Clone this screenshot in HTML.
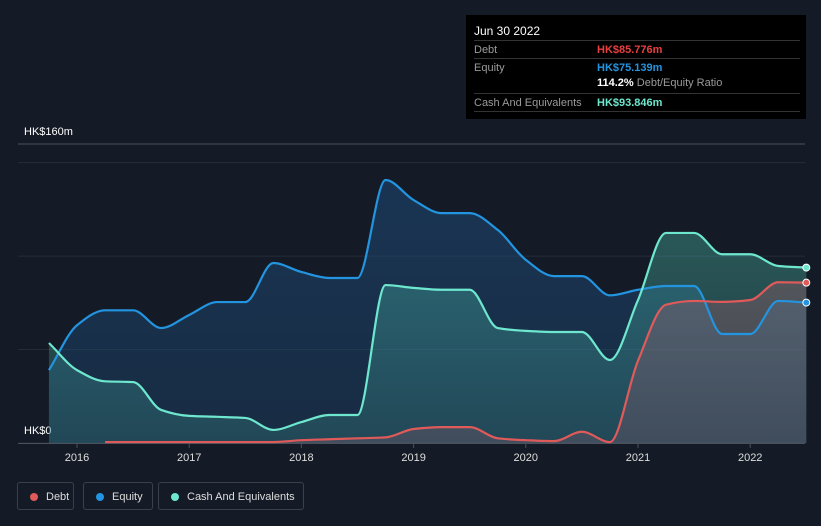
<!DOCTYPE html>
<html><head><meta charset="utf-8"><style>
body{margin:0;background:#151b26;width:821px;height:526px;overflow:hidden;font-family:"Liberation Sans",sans-serif;}
#wrap{position:relative;width:821px;height:526px;}
.tt{position:absolute;left:466px;top:15px;width:340px;height:104px;background:#000;color:#fff;font-size:11px;}
.row{position:absolute;left:8px;right:6px;border-top:1px solid #333;height:18px;line-height:18px;color:#9a9a9a;}
.lg{position:absolute;top:482px;height:28px;border:1px solid #3a414c;border-radius:3px;color:#ddd;font-size:11px;line-height:28px;box-sizing:border-box;padding-left:28px;}
.lg i{position:absolute;left:12px;top:10px;width:8px;height:8px;border-radius:50%;}
</style></head><body><div id="wrap">
<svg id="svg" width="821" height="526" style="position:absolute;left:0;top:0"></svg>
<div class="tt">
<div style="position:absolute;left:8px;top:9px;font-size:12px">Jun 30 2022</div>
<div class="row" style="top:25px">Debt<span style="position:absolute;left:123px;color:#e8403f;font-weight:bold">HK$85.776m</span></div>
<div class="row" style="top:43px">Equity<span style="position:absolute;left:123px;color:#2394df;font-weight:bold">HK$75.139m</span></div>
<div style="position:absolute;left:131px;top:62px;color:#9a9a9a"><b style="color:#fff">114.2%</b> Debt/Equity Ratio</div>
<div class="row" style="top:78px">Cash And Equivalents<span style="position:absolute;left:123px;color:#6ee7cf;font-weight:bold">HK$93.846m</span></div>
<div class="row" style="top:96px;height:0"></div>
</div>
<div class="lg" style="left:17px;width:57px"><i style="background:#e05a5a"></i>Debt</div>
<div class="lg" style="left:83px;width:70px"><i style="background:#2394df"></i>Equity</div>
<div class="lg" style="left:158px;width:146px"><i style="background:#6ee7cf"></i>Cash And Equivalents</div>
</div>
<script>
const times=[2015.75,2016,2016.25,2016.5,2016.75,2017,2017.25,2017.5,2017.75,2018,2018.25,2018.5,2018.75,2019,2019.25,2019.5,2019.75,2020,2020.25,2020.5,2020.75,2021,2021.25,2021.5,2021.75,2022,2022.25,2022.5];
const equity=[39,63,71,71,61.5,68.5,75.4,75.4,96.3,91.5,88.3,88.3,140.7,130,123,123,114,98,89.3,89.3,79,82,84,84,58.3,58.3,76,75.139];
const cash=[53.5,39,33,32.6,17.7,14.5,14,13.4,7,11.2,15,15,84.5,83,82,82,61.5,60,59.4,59.4,44.4,76.5,112.4,112.4,101,101,94.7,93.846];
const debt=[null,null,0.5,0.5,0.5,0.5,0.5,0.5,0.5,1.5,2,2.5,3,7.5,8.5,8.5,2.5,1.5,1,6,0.5,44,74,76,75.5,76.5,86,85.776];
const yTicks=[0,50,100,150,160];
const xTicks=[2016,2017,2018,2019,2020,2021,2022];
const X=t=>77+(t-2016)*112.2, Y=v=>443-v*1.869;
const svg=document.getElementById('svg'),NS='http://www.w3.org/2000/svg';
function mk(tag,attrs,parent){const e=document.createElementNS(NS,tag);for(const k in attrs)e.setAttribute(k,attrs[k]);(parent||svg).appendChild(e);return e;}
const defs=mk('defs',{});
function grad(id,c,o1,o2){const g=mk('linearGradient',{id,x1:0,y1:0,x2:0,y2:1},defs);mk('stop',{offset:0,'stop-color':c,'stop-opacity':o1},g);mk('stop',{offset:1,'stop-color':c,'stop-opacity':o2},g);}
grad('ge','#1d4a78',0.55,0.35);grad('gc','#4fc8b4',0.35,0.18);grad('gd','#b86070',0.3,0.2);
yTicks.forEach(v=>{const l=mk('line',{x1:18,x2:805,y1:Y(v),y2:Y(v),stroke:v==160?'#4a515c':'#252c38','stroke-width':1});

});
const ax=mk('line',{x1:18,x2:805,y1:443.5,y2:443.5,stroke:'#4a515c'});


[['HK$160m',160,131],['HK$0',0,430]].forEach(a=>{const t=mk('text',{x:24,y:a[2]+4,fill:'#fff','font-size':11});t.textContent=a[0];

});
xTicks.forEach(yr=>{mk('line',{x1:X(yr),x2:X(yr),y1:443,y2:448,stroke:'#4a515c'});const t=mk('text',{x:X(yr),y:461,fill:'#ddd','font-size':11,'text-anchor':'middle'});t.textContent=yr;

});
function path(pts){const n=pts.length,d=[],m=[];for(let i=0;i<n-1;i++)d.push((pts[i+1][1]-pts[i][1])/(pts[i+1][0]-pts[i][0]));
m[0]=d[0];m[n-1]=d[n-2];for(let i=1;i<n-1;i++)m[i]=(d[i-1]*d[i]<=0)?0:2/(1/d[i-1]+1/d[i]);
let s='M'+pts[0][0]+','+pts[0][1];for(let i=0;i<n-1;i++){const h=(pts[i+1][0]-pts[i][0])/3;
s+=' C'+(pts[i][0]+h)+','+(pts[i][1]+m[i]*h)+' '+(pts[i+1][0]-h)+','+(pts[i+1][1]-m[i+1]*h)+' '+pts[i+1][0]+','+pts[i+1][1];}return s;}
function series(vals,color,g,name){const pts=[];vals.forEach((v,i)=>{if(v!==null)pts.push([X(times[i]),Y(v)]);});
const p=path(pts);const a=mk('path',{d:p+' L'+pts[pts.length-1][0]+',443 L'+pts[0][0]+',443 Z',fill:'url(#'+g+')'});


return ()=>{const l=mk('path',{d:p,fill:'none',stroke:color,'stroke-width':2.2});


const c=mk('circle',{cx:pts[pts.length-1][0],cy:pts[pts.length-1][1],r:3.5,fill:color,stroke:'#fff','stroke-width':1});

};}
const le=series(equity,'#2394df','ge','equity');
const lc=series(cash,'#6ee7cf','gc','cash');
const ld=series(debt,'#e05a5a','gd','debt');
le();lc();ld();
</script></body></html>
